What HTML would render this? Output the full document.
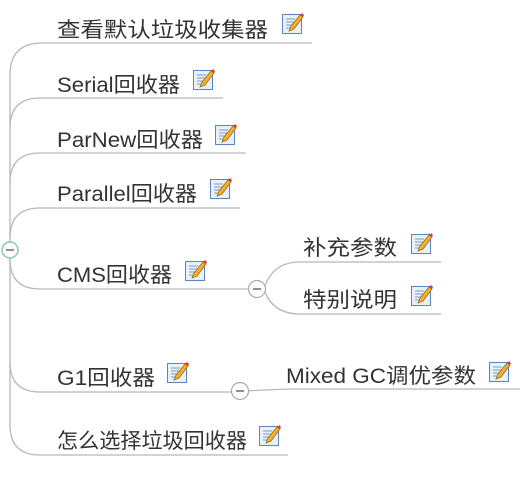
<!DOCTYPE html>
<html><head><meta charset="utf-8"><style>
html,body{margin:0;padding:0;background:#fff;width:526px;height:484px;overflow:hidden}
svg text{font-family:"Liberation Sans","Noto Sans CJK SC",sans-serif;font-size:21px;fill:#333}
</style></head><body>
<svg width="526" height="484" viewBox="0 0 526 484" xmlns="http://www.w3.org/2000/svg">
<defs>
<g id="ic">
<rect x="0.5" y="0.5" width="19" height="19" fill="#e8f0fa" stroke="#5a86c0"/>
<line x1="4" y1="5" x2="13" y2="5" stroke="#7a9cc8"/>
<line x1="4" y1="8" x2="12" y2="8" stroke="#7a9cc8"/>
<line x1="4" y1="11" x2="10" y2="11" stroke="#7a9cc8"/>
<line x1="4" y1="14" x2="8" y2="14" stroke="#7a9cc8"/>
<path d="M7,17 L9,12 L18,1 L21,3 L12,15 Z" fill="#f0b030" stroke="#a06a10" stroke-width="0.8"/>
<path d="M18,1 L21,3 L22,1 L20,-1 Z" fill="#d84040"/>
</g>
</defs>
<g fill="none" stroke="#b8b8b8" stroke-width="1.3">
<path d="M10,425 L10,75"/>
<path d="M10,75 Q10,43 42,43 L312,43"/>
<path d="M10,128 Q10,98 40,98 L223,98"/>
<path d="M10,183 Q10,153 40,153 L246,153"/>
<path d="M10,238 Q10,208 40,208 L240,208"/>
<path d="M10,259 Q10,289 40,289 L250,289"/>
<path d="M10,362 Q10,392 40,392 L233,392"/>
<path d="M10,425 Q10,455 40,455 L288,455"/>
<path d="M264,289 Q272,262 300,262 L441,262"/>
<path d="M264,289 Q272,314 300,314 L441,314"/>
<path d="M247,391 Q260,390 290,389 L520,389"/>
</g>
<circle cx="10" cy="250" r="8" fill="#fff" stroke="#8cc9b0" stroke-width="1.5"/>
<line x1="6" y1="250" x2="14" y2="250" stroke="#555" stroke-width="1.3"/>
<circle cx="257" cy="289" r="8.5" fill="#fff" stroke="#aaa" stroke-width="1.2"/>
<line x1="253" y1="289" x2="261" y2="289" stroke="#555" stroke-width="1.3"/>
<circle cx="240" cy="391" r="8.5" fill="#fff" stroke="#aaa" stroke-width="1.2"/>
<line x1="236" y1="391" x2="244" y2="391" stroke="#555" stroke-width="1.3"/>
<g>
<text x="57" y="37" textLength="211" lengthAdjust="spacingAndGlyphs">查看默认垃圾收集器</text><use href="#ic" x="282" y="14"/>
<text x="57" y="92" textLength="123" lengthAdjust="spacingAndGlyphs">Serial回收器</text><use href="#ic" x="193" y="70"/>
<text x="57" y="147" textLength="146" lengthAdjust="spacingAndGlyphs">ParNew回收器</text><use href="#ic" x="215" y="125"/>
<text x="57" y="201" textLength="140" lengthAdjust="spacingAndGlyphs">Parallel回收器</text><use href="#ic" x="210" y="179"/>
<text x="57" y="282" textLength="115" lengthAdjust="spacingAndGlyphs">CMS回收器</text><use href="#ic" x="185" y="261"/>
<text x="303" y="255" textLength="94" lengthAdjust="spacingAndGlyphs">补充参数</text><use href="#ic" x="411" y="234"/>
<text x="303" y="307" textLength="94" lengthAdjust="spacingAndGlyphs">特别说明</text><use href="#ic" x="411" y="286"/>
<text x="57" y="385" textLength="98" lengthAdjust="spacingAndGlyphs">G1回收器</text><use href="#ic" x="167" y="363"/>
<text x="286" y="383" textLength="190" lengthAdjust="spacingAndGlyphs">Mixed GC调优参数</text><use href="#ic" x="489" y="362"/>
<text x="57" y="448" textLength="190" lengthAdjust="spacingAndGlyphs">怎么选择垃圾回收器</text><use href="#ic" x="259" y="426"/>
</g>
</svg>
</body></html>
